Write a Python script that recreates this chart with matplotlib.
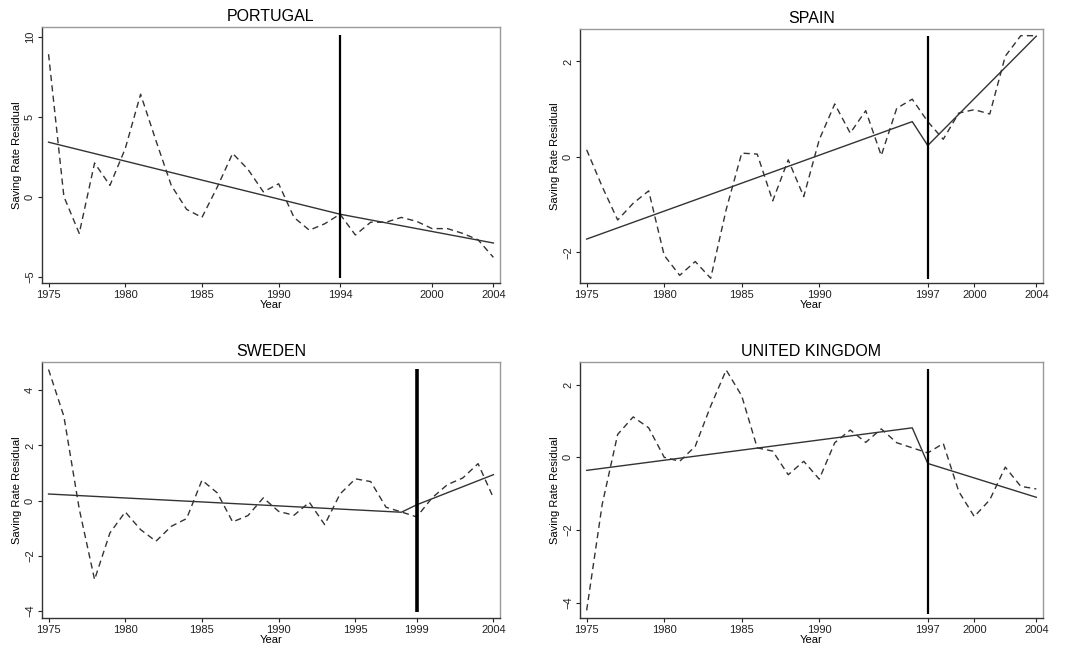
import numpy as np
import matplotlib
matplotlib.use("Agg")
import matplotlib.pyplot as plt

plt.rcParams['font.family'] = ['Liberation Sans', 'DejaVu Sans']

years = np.arange(1975, 2005)

# dashed series: saving rate residuals
portugal = [8.9, 0.0, -2.3, 2.1, 0.7, 3.0, 6.4, 3.5, 0.7, -0.8,
            -1.3, 0.6, 2.7, 1.7, 0.3, 0.8, -1.3, -2.1, -1.7, -1.1,
            -2.4, -1.6, -1.6, -1.3, -1.55, -2.0, -2.0, -2.3, -2.7, -3.8]
spain = [0.15, -0.62, -1.32, -0.97, -0.71, -2.06, -2.48, -2.19, -2.54, -1.1,
         0.08, 0.06, -0.92, -0.06, -0.83, 0.36, 1.11, 0.5, 0.97, 0.03,
         1.02, 1.21, 0.74, 0.37, 0.92, 0.99, 0.9, 2.11, 2.54, 2.54]
sweden = [4.75, 3.05, -0.3, -2.86, -1.17, -0.41, -1.05, -1.47, -0.93, -0.65,
          0.74, 0.28, -0.77, -0.54, 0.1, -0.39, -0.53, -0.06, -0.87, 0.24,
          0.79, 0.69, -0.24, -0.41, -0.59, 0.1, 0.58, 0.82, 1.34, 0.1]
uk = [-4.21, -1.3, 0.63, 1.11, 0.81, 0.0, -0.11, 0.3, 1.41, 2.4,
      1.69, 0.26, 0.17, -0.48, -0.11, -0.6, 0.4, 0.75, 0.41, 0.78,
      0.4, 0.26, 0.12, 0.38, -0.94, -1.63, -1.17, -0.27, -0.8, -0.87]

# fitted trend: (year, value) knots
portugal_fit_x = [1975, 1994, 2004]
portugal_fit_y = [3.4, -1.1, -2.9]
spain_fit_x = [1975, 1996, 1997, 2004]
spain_fit_y = [-1.72, 0.74, 0.24, 2.53]
sweden_fit_x = [1975, 1998, 1999, 2004]
sweden_fit_y = [0.24, -0.42, -0.15, 0.94]
uk_fit_x = [1975, 1996, 1997, 2004]
uk_fit_y = [-0.36, 0.81, -0.17, -1.1]

break_years = [1994, 1997, 1999, 1997]
vline_spans = [(-5.1, 10.1), (-2.55, 2.54), (-4.05, 4.75), (-4.3, 2.44)]
ylims = [(-5.4, 10.6), (-2.64, 2.68), (-4.25, 5.02), (-4.42, 2.62)]
yticks = [[-5, 0, 5, 10], [-2, 0, 2], [-4, -2, 0, 2, 4], [-4, -2, 0, 2]]
xticks = [[1975, 1980, 1985, 1990, 1994, 2000, 2004],
          [1975, 1980, 1985, 1990, 1997, 2000, 2004],
          [1975, 1980, 1985, 1990, 1995, 1999, 2004],
          [1975, 1980, 1985, 1990, 1997, 2000, 2004]]
titles = ['PORTUGAL', 'SPAIN', 'SWEDEN', 'UNITED KINGDOM']
series = [portugal, spain, sweden, uk]
fits = [(portugal_fit_x, portugal_fit_y), (spain_fit_x, spain_fit_y),
        (sweden_fit_x, sweden_fit_y), (uk_fit_x, uk_fit_y)]
vline_w = [1.6, 1.6, 2.6, 1.6]

fig = plt.figure(figsize=(10.65, 6.53), dpi=100)
positions = [[0.0394, 0.5666, 0.4301, 0.3921],
             [0.5446, 0.5666, 0.4347, 0.3890],
             [0.0394, 0.0536, 0.4301, 0.3920],
             [0.5446, 0.0536, 0.4347, 0.3920]]

for i in range(4):
    ax = fig.add_axes(positions[i])
    ax.plot(years, series[i], color='#333333', lw=1.0, ls=(0, (4.5, 3)))
    ax.plot(fits[i][0], fits[i][1], color='#333333', lw=1.0)
    ax.vlines(break_years[i], vline_spans[i][0], vline_spans[i][1],
              color='black', lw=vline_w[i])
    ax.set_xlim(1974.57, 2004.43)
    ax.set_ylim(*ylims[i])
    ax.set_xticks(xticks[i])
    ax.set_yticks(yticks[i])
    ax.set_yticklabels([str(v).replace('-', '\u2212') for v in yticks[i]],
                       rotation=90, va='center')
    ax.tick_params(direction='out', length=3, width=0.8, labelsize=8,
                   colors='#222222', pad=2)
    ax.set_title(titles[i], fontsize=11.5, pad=4)
    ax.set_xlabel('Year', fontsize=8, labelpad=0)
    ax.set_ylabel('Saving Rate Residual', fontsize=8, labelpad=2)
    for side in ['left', 'bottom']:
        ax.spines[side].set_color('#333333')
        ax.spines[side].set_linewidth(1.0)
    for side in ['top', 'right']:
        ax.spines[side].set_color('#999999')
        ax.spines[side].set_linewidth(1.0)

fig.savefig('out.png', dpi=100)
